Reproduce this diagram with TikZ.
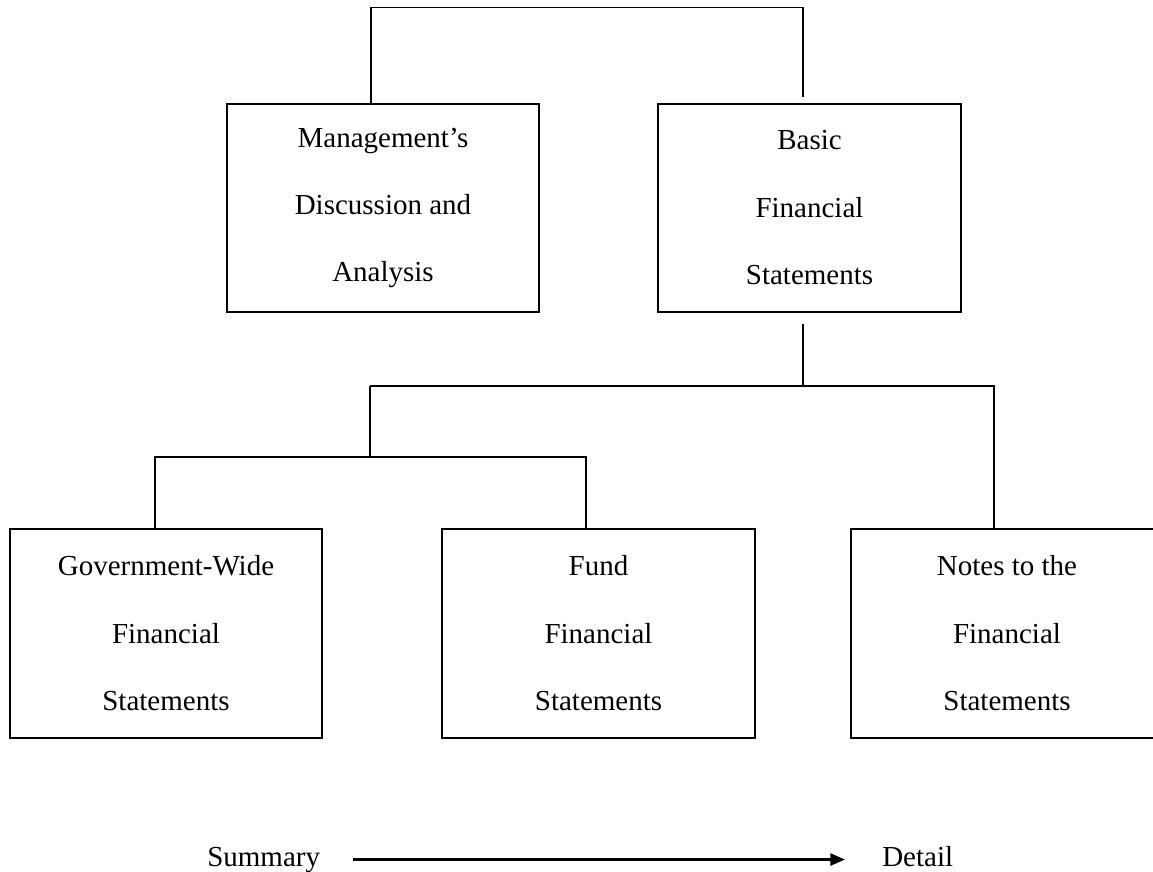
\documentclass[tikz,border=0pt]{standalone}
\usepackage{fontspec}
\setmainfont{Liberation Serif}
\usetikzlibrary{arrows.meta}
\begin{document}
\begin{tikzpicture}[x=0.75pt,y=-0.75pt,
  box/.style={draw, line width=1.4pt, minimum width=234pt, minimum height=156pt,
    inner sep=0pt, align=center, font=\fontsize{21.75}{50.6}\selectfont},
  conn/.style={line width=1pt},
  lbl/.style={inner sep=0pt, font=\fontsize{21.75}{26}\selectfont},
  flow/.style={line width=1.9pt, -{Triangle[length=11pt,width=9pt]}}]
\useasboundingbox (0,0) rectangle (1153,871);
\clip (0,0) rectangle (1153,871);
\fill[white] (0,0) rectangle (1153,871);

\node[box] (mda) at (383,208) {Management’s\\Discussion and\\Analysis};
\node[box, minimum width=227.25pt] (bfs) at (809.5,208) {Basic\\Financial\\Statements};
\node[box, minimum height=156.75pt] (gov) at (166,633.5) {Government-Wide\\Financial\\Statements};
\node[box, minimum height=156.75pt, minimum width=234.75pt] (fund) at (598.5,633.5) {Fund\\Financial\\Statements};
\node[box, minimum height=156.75pt] (notes) at (1007,633.5) {Notes to the\\Financial\\Statements};

\coordinate (t1) at (371,7.5);
\coordinate (t2) at (803,7.5);
\path (bfs.north -| t2) ++(0,-6) coordinate (t3);
\draw[conn] (mda.north -| t1) -- (t1) -- (t2) -- (t3);

\coordinate (j0) at (370,386);
\coordinate (j1) at (803,386);
\coordinate (j2) at (994,386);
\path (bfs.south -| j1) ++(0,11) coordinate (b1);
\draw[conn] (b1) -- (j1);
\draw[conn] (j0) -- (j2) -- (j2 |- notes.north);

\coordinate (k0) at (370,457);
\coordinate (k1) at (155,457);
\coordinate (k2) at (586,457);
\draw[conn] (j0) -- (k0);
\draw[conn] (k1 |- gov.north) -- (k1) -- (k2) -- (k2 |- fund.north);

\node[lbl, anchor=base west] (sum) at (207,866) {Summary};
\node[lbl, anchor=base west] (det) at (882,866) {Detail};
\draw[flow, shorten <=24.75pt, shorten >=27.75pt] (sum.east) -- (sum.east -| det.west);
\end{tikzpicture}
\end{document}
